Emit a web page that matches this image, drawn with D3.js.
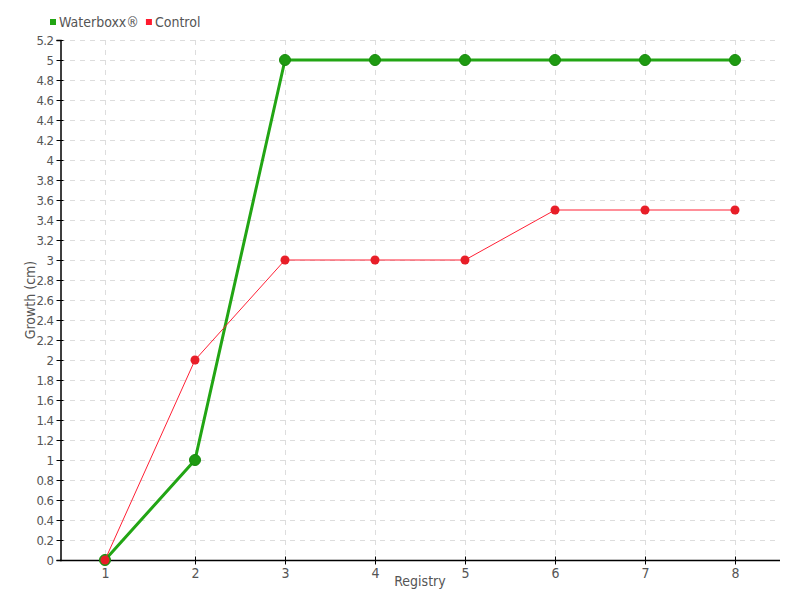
<!DOCTYPE html>
<html>
<head>
<meta charset="utf-8">
<script src="https://cdn.jsdelivr.net/npm/d3@7"></script>
<style>
  body { margin: 0; background: #fff; }
  svg text { font-family: "DejaVu Sans", sans-serif; font-stretch: condensed; fill: #555; }
</style>
</head>
<body>
<div id="chart"></div>
<script>
const registries = [1, 2, 3, 4, 5, 6, 7, 8]
const waterboxx = [0, 1, 5, 5, 5, 5, 5, 5]
const control = [0, 2, 3, 3, 3, 3.5, 3.5, 3.5]
const yTicks = d3.range(0, 5.21, 0.2).map(v => +v.toFixed(1))

const width = 800, height = 600
const margin = { top: 40, right: 20, bottom: 40, left: 60 }

const svg = d3.select("#chart").append("svg")
  .attr("width", width).attr("height", height)

const x = d3.scalePoint()
  .domain(registries)
  .range([margin.left, width - margin.right])
  .padding(0.5)

const y = d3.scaleLinear()
  .domain([0, 5.2])
  .range([height - margin.bottom, margin.top])

// dashed grid
svg.append("g").selectAll("line")
  .data(yTicks.slice(1))
  .join("line")
    .attr("x1", margin.left).attr("x2", width - margin.right)
    .attr("y1", d => y(d) + 0.5).attr("y2", d => y(d) + 0.5)
    .attr("stroke", "#ddd").attr("stroke-dasharray", "5,5")

svg.append("g").selectAll("line")
  .data(registries)
  .join("line")
    .attr("x1", d => x(d) + 0.5).attr("x2", d => x(d) + 0.5)
    .attr("y1", margin.top).attr("y2", height - margin.bottom)
    .attr("stroke", "#ddd").attr("stroke-dasharray", "5,5")

// axes
const yAxis = svg.append("g")
  .attr("transform", `translate(${margin.left + 0.5},0)`)
  .call(d3.axisLeft(y).tickValues(yTicks).tickFormat(d3.format("~g")).tickSize(4).tickPadding(3))
yAxis.select(".domain").attr("stroke", "#000").attr("stroke-width", 1.5)
yAxis.selectAll(".tick line").attr("x2", 3).attr("x1", -4)
yAxis.selectAll("text").style("font-size", "13px").style("letter-spacing", "-0.5px").attr("fill", "#555")

const xAxis = svg.append("g")
  .attr("transform", `translate(0,${height - margin.bottom + 0.5})`)
  .call(d3.axisBottom(x).tickSize(5).tickPadding(3))
xAxis.select(".domain").attr("stroke", "#000").attr("stroke-width", 1.5).attr("d", `M${margin.left},0H${width - margin.right}`)
xAxis.selectAll(".tick line").attr("y1", -4).attr("y2", 4)
xAxis.selectAll("text").style("font-size", "14px").attr("fill", "#555")

// axis titles
svg.append("text")
  .attr("x", (margin.left + width - margin.right) / 2).attr("y", 586)
  .attr("text-anchor", "middle").style("font-size", "14px")
  .text("Registry")

svg.append("text")
  .attr("transform", `translate(35,${(margin.top + height - margin.bottom) / 2}) rotate(-90)`)
  .attr("text-anchor", "middle").style("font-size", "14px")
  .text("Growth (cm)")

// series
const line = d3.line().x((d, i) => x(registries[i])).y(d => y(d))

svg.append("path").datum(waterboxx)
  .attr("d", line).attr("fill", "none")
  .attr("stroke", "#22a514").attr("stroke-width", 3)
svg.append("g").selectAll("circle")
  .data(waterboxx).join("circle")
    .attr("cx", (d, i) => x(registries[i])).attr("cy", d => y(d))
    .attr("r", 5.5).attr("fill", "#1f9a12").attr("stroke", "#178a0c").attr("stroke-width", 1)

svg.append("path").datum(control)
  .attr("d", line).attr("fill", "none")
  .attr("stroke", "#ff2035").attr("stroke-width", 1)
svg.append("g").selectAll("circle")
  .data(control).join("circle")
    .attr("cx", (d, i) => x(registries[i])).attr("cy", d => y(d))
    .attr("r", 4.5).attr("fill", "#e81e28")

// legend
const legend = svg.append("g").attr("transform", "translate(50,22)")
const items = [
  { name: "Waterboxx®", color: "#22a514" },
  { name: "Control", color: "#ff1a2e" },
]
let offset = 0
items.forEach(it => {
  const g = legend.append("g").attr("transform", `translate(${offset},0)`)
  g.append("rect").attr("x", 0).attr("y", -3).attr("width", 6).attr("height", 6).attr("fill", it.color)
  const t = g.append("text").attr("x", 9).attr("y", 5).style("font-size", "14px").text(it.name)
  offset += 9 + t.node().getComputedTextLength() + 7
})
</script>
</body>
</html>
